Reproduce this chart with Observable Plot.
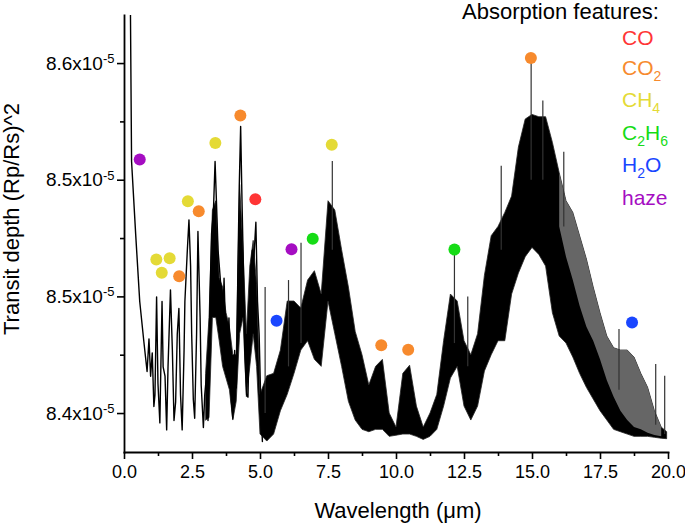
<!DOCTYPE html>
<html><head><meta charset="utf-8">
<script src="https://cdn.jsdelivr.net/npm/d3@7"></script>
<script src="https://cdn.jsdelivr.net/npm/@observablehq/plot@0.6"></script>
<style>body{margin:0;background:#fff}#chart{width:685px;height:526px}</style>
</head><body><div id="chart"></div>
<script>
// ---- axes ----
const xTicks = [0, 2.5, 5, 7.5, 10, 12.5, 15, 17.5, 20];
const xMinorTicks = [1.25, 3.75, 6.25, 8.75, 11.25, 13.75, 16.25, 18.75];
const yTicks = [8.45, 8.50, 8.55, 8.60];           // units of 1e-5
const yTickLabels = ["8.4", "8.5", "8.5", "8.6"];
const yMinorTicks = [8.475, 8.525, 8.575];
const xLabel = "Wavelength (\u03bcm)";
const yLabel = "Transit depth (Rp/Rs)^2";

// ---- spectrum: traced line (short wavelengths, peak tips) ----
const lineWl  = [0.21,0.22,0.26,0.41,0.56,0.71,0.83,0.90,0.96,1.02,1.08,1.12,1.18,1.23,1.30,1.38,1.42,1.49,1.55,1.60,1.69,1.76,1.82,1.88,1.94,2.00,2.06,2.12,2.19,2.22,2.31,2.37,2.43,2.47,2.53,2.58,2.65,2.70,2.78,2.82,2.90,2.95,3.02,3.07,3.14,3.20,3.27,3.33,3.38,3.44,3.54,3.60,3.66,3.72,3.78,3.84,3.93,3.98,4.05,4.11,4.17,4.22,4.27,4.32,4.37,4.42,4.49,4.54,4.62,4.70,4.74,4.83,4.89,4.95,5.01,5.07];
const lineVal = [8.660,8.620,8.558,8.527,8.498,8.481,8.468,8.482,8.466,8.476,8.453,8.458,8.500,8.463,8.446,8.498,8.470,8.466,8.443,8.470,8.503,8.477,8.447,8.455,8.484,8.495,8.458,8.443,8.477,8.498,8.520,8.533,8.513,8.484,8.456,8.448,8.484,8.528,8.491,8.462,8.444,8.458,8.467,8.447,8.498,8.527,8.537,8.558,8.541,8.520,8.505,8.484,8.508,8.484,8.470,8.491,8.455,8.448,8.477,8.461,8.513,8.548,8.573,8.541,8.513,8.477,8.458,8.457,8.505,8.520,8.513,8.532,8.498,8.484,8.455,8.438];

// ---- spectrum: dense band (lower / upper envelope) ----
const bandWl = [3.00,3.125,3.25,3.375,3.50,3.625,3.75,3.875,4.00,4.125,4.25,4.375,4.50,4.625,4.75,4.875,5.00,5.25,5.50,5.75,6.00,6.25,6.50,6.75,7.00,7.25,7.50,7.75,8.00,8.25,8.50,8.75,9.00,9.25,9.50,9.75,10.00,10.25,10.50,10.75,11.00,11.25,11.50,11.75,12.00,12.25,12.50,12.75,13.00,13.25,13.50,13.75,14.00,14.25,14.50,14.75,15.00,15.25,15.50,15.75,16.00,16.25,16.50,16.75,17.00,17.25,17.50,17.75,18.00,18.25,18.50,18.75,19.00,19.25,19.50,19.75,19.95];
const bandLo = [8.447,8.448,8.491,8.491,8.481,8.470,8.465,8.460,8.447,8.455,8.484,8.491,8.457,8.470,8.484,8.470,8.441,8.438,8.441,8.451,8.458,8.467,8.477,8.481,8.473,8.470,8.498,8.484,8.470,8.455,8.447,8.443,8.442,8.443,8.443,8.440,8.4405,8.441,8.441,8.440,8.4387,8.440,8.443,8.453,8.465,8.470,8.453,8.447,8.453,8.468,8.475,8.481,8.481,8.501,8.510,8.517,8.521,8.518,8.513,8.493,8.483,8.480,8.474,8.467,8.461,8.456,8.451,8.447,8.443,8.442,8.441,8.440,8.440,8.440,8.4396,8.4392,8.4390];
const bandHi = [8.467,8.491,8.537,8.541,8.508,8.504,8.493,8.487,8.475,8.475,8.548,8.520,8.484,8.513,8.524,8.505,8.458,8.466,8.467,8.477,8.498,8.498,8.495,8.507,8.511,8.501,8.541,8.537,8.520,8.504,8.485,8.475,8.462,8.470,8.473,8.450,8.444,8.467,8.4705,8.453,8.444,8.450,8.458,8.481,8.501,8.498,8.481,8.475,8.484,8.509,8.526,8.530,8.536,8.543,8.564,8.576,8.578,8.577,8.577,8.566,8.553,8.541,8.536,8.526,8.516,8.504,8.493,8.483,8.478,8.477,8.477,8.474,8.467,8.461,8.451,8.444,8.442];

// ---- spectrum: grey line-comb on the long-wavelength side ----
const combWl = [16.00,16.25,16.50,16.75,17.00,17.25,17.50,17.75,18.00,18.25,18.50,18.75,19.00,19.25,19.50,19.75];
const combLo = [8.530,8.517,8.507,8.496,8.487,8.481,8.473,8.464,8.457,8.451,8.447,8.444,8.443,8.4416,8.4406,8.440];
const combHi = [8.553,8.541,8.536,8.526,8.516,8.504,8.493,8.483,8.478,8.477,8.477,8.474,8.467,8.461,8.451,8.444];

// ---- isolated narrow spikes ----
const spikeWl   = [5.17,6.03,6.49,7.64,12.13,12.62,13.85,14.95,15.38,16.15,18.18,19.53,19.86];
const spikeBase = [8.450,8.470,8.480,8.520,8.480,8.470,8.520,8.550,8.550,8.530,8.460,8.445,8.441];
const spikeTop  = [8.504,8.507,8.523,8.558,8.518,8.500,8.556,8.601,8.584,8.562,8.486,8.471,8.466];

// ---- absorption feature markers ----
const species = ["CO", "CO2", "CH4", "C2H6", "H2O", "haze"];
const speciesColors = ["#ff3535", "#f78a2d", "#e4da36", "#16dc16", "#1a46ff", "#a50dc2"];
const dotSpecies = ["haze","CH4","CH4","CH4","CO2","CH4","CO2","CH4","CO2","CO","H2O","haze","C2H6","CH4","CO2","CO2","C2H6","CO2","H2O"];
const dotWl      = [0.56,1.17,1.37,1.66,2.01,2.33,2.73,3.34,4.26,4.81,5.59,6.14,6.92,7.62,9.44,10.43,12.13,14.94,18.66];
const dotVal     = [8.5589,8.5160,8.5103,8.5166,8.5088,8.5410,8.5367,8.5660,8.5777,8.5418,8.4898,8.5204,8.5249,8.5652,8.4793,8.4773,8.5203,8.6024,8.4890];

// legend text pieces: [main, sub, main, sub ...]
const legendTitle = "Absorption features:";
const legendParts = [["CO"], ["CO", "2"], ["CH", "4"], ["C", "2", "H", "6"], ["H", "2", "O"], ["haze"]];

// ---- tables ----
const line = lineWl.map((w, i) => ({wl: w, v: lineVal[i]}));
const band = bandWl.map((w, i) => ({wl: w, lo: bandLo[i], hi: bandHi[i]}));
const comb = combWl.map((w, i) => ({wl: w, lo: combLo[i], hi: combHi[i]}));
const spikes = spikeWl.map((w, i) => ({wl: w, b: spikeBase[i], t: spikeTop[i]}));
const dots = dotWl.map((w, i) => ({wl: w, v: dotVal[i], s: dotSpecies[i]}));

const W = 685, H = 526;
const mL = 124, mR = 17, mT = 15, mB = 74;

const plot = Plot.plot({
  width: W, height: H,
  marginLeft: mL, marginRight: mR, marginTop: mT, marginBottom: mB,
  style: {fontFamily: "'Liberation Sans', Arial, sans-serif", fontSize: "18px", color: "black", background: "white", overflow: "visible"},
  x: {domain: [0, 20]},
  y: {domain: [8.4333, 8.6206]},
  color: {domain: species, range: speciesColors},
  marks: [
    Plot.areaY(band, {x: "wl", y1: "lo", y2: "hi", fill: "black", stroke: "#222", strokeWidth: 0.8}),
    Plot.areaY(comb, {x: "wl", y1: "lo", y2: "hi", fill: "#666666"}),
    Plot.ruleX(spikes, {x: "wl", y1: "b", y2: "t", stroke: "#333", strokeWidth: 1.2}),
    Plot.line(line, {x: "wl", y: "v", stroke: "black", strokeWidth: 1.4, clip: true}),
    Plot.dot(dots, {x: "wl", y: "v", fill: "s", r: 6}),
    Plot.axisX({ticks: xTicks, tickSize: 7, tickPadding: 6, tickFormat: d => d.toFixed(1), label: null, strokeWidth: 1.6}),
    Plot.axisX({ticks: xMinorTicks, tickSize: 4, tickFormat: () => "", label: null, strokeWidth: 1.6}),
    Plot.axisY({ticks: yTicks, tickSize: 7, tickPadding: 3, fontSize: 19, tickFormat: d => yTickLabels[yTicks.indexOf(d)] + "x10", label: null, strokeWidth: 1.6}),
    Plot.axisY({ticks: yMinorTicks, tickSize: 4, tickFormat: () => "", label: null, strokeWidth: 1.6}),
    Plot.frame({anchor: "left", strokeWidth: 1.8}),
    Plot.frame({anchor: "bottom", strokeWidth: 1.8})
  ]
});
document.getElementById("chart").appendChild(plot);

const svg = d3.select(plot);
// superscript exponent on y tick labels
svg.selectAll('g[aria-label="y-axis tick label"] text').each(function() {
  const t = d3.select(this);
  if (!t.text()) return;
  t.append("tspan").attr("dy", "-0.5em").attr("font-size", "13px").text("-5");
});

const font = "'Liberation Sans', Arial, sans-serif";
// axis titles
svg.append("text").attr("transform", "translate(19,219) rotate(-90)")
  .attr("text-anchor", "middle").attr("font-family", font).attr("font-size", 22).attr("fill", "black").text(yLabel);
svg.append("text").attr("x", 398).attr("y", 518)
  .attr("text-anchor", "middle").attr("font-family", font).attr("font-size", 22).attr("fill", "black").text(xLabel);

// legend
svg.append("text").attr("x", 462).attr("y", 19).attr("text-anchor", "start")
  .attr("font-family", font).attr("font-size", 22).attr("fill", "black").text(legendTitle);
const baselines = [45, 75, 107, 140, 172, 205];
legendParts.forEach((parts, i) => {
  const t = svg.append("text").attr("x", 622).attr("y", baselines[i]).attr("text-anchor", "start")
    .attr("font-family", font).attr("font-size", 21).attr("fill", speciesColors[i]);
  parts.forEach((p, j) => {
    const sub = j % 2 === 1;
    const prevSub = j > 0 && !sub;
    const ts = t.append("tspan").text(p);
    if (sub) ts.attr("font-size", 14).attr("dy", 6);
    else if (prevSub) ts.attr("dy", -6);
  });
});
</script>
</body></html>
